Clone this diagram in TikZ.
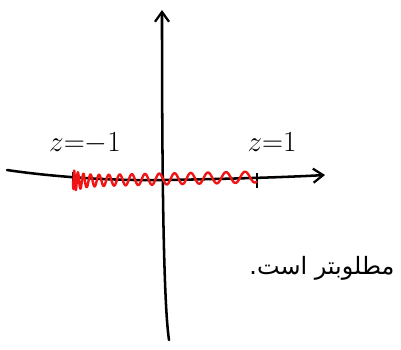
\documentclass[tikz,border=0pt]{standalone}
\usepackage{fontspec}
\usepackage{tikz}
\usetikzlibrary{arrows.meta,positioning,calc}
\newfontfamily\persianfont[Script=Arabic]{DejaVu Sans}
\TeXXeTstate=1
\definecolor{wavered}{HTML}{F01414}
\tikzset{
  axisline/.style={line width=1.8pt, line cap=round, -{Straight Barb[length=7pt,width=10pt,line width=1.6pt]}},
  tickline/.style={line width=1.8pt},
  axislabel/.style={font=\fontsize{20}{24}\selectfont, inner sep=0pt},
}

\begin{document}
\begin{tikzpicture}[x=0.025cm, y=-0.025cm]
\useasboundingbox (0,0) rectangle (401,349);
% axes
\coordinate (yTop) at (162,10);
\coordinate (yBot) at (169,340);
\coordinate (xLeft) at (7,170);
\coordinate (xRight) at (325,175);
\coordinate (zMinus) at (73,178);
\coordinate (zPlus) at (257,178);
\draw[axisline] (yBot) .. controls (163,300) and (162,150) .. (yTop);
\draw[axisline] (xLeft) .. controls (40,175) and (100,181) .. (163,180) .. controls (230,179) and (290,177) .. (xRight);
\draw[tickline] ($(zMinus)+(0,-6)$) -- ($(zMinus)+(0,9)$);
\draw[tickline] ($(zPlus)+(0,-5)$) -- ($(zPlus)+(0,10)$);
% labels
\node[axislabel] (labMinus) at (85,143) {$z{=}{-}1$};
\node[axislabel] (labPlus) at (272,142) {$z{=}1$};
% red wave between -1 and 1
\draw[wavered, line width=1.7pt, line join=round]
  plot[smooth, samples=500, domain=0:184, variable=\u]
  ({73+\u}, {181-0.022*\u+(5.5+6*exp(-\u/8))*sin(3600*pow(\u/90,0.6))});
\node[font=\persianfont\fontsize{17}{21}\selectfont, inner sep=0pt] (remark) at (322,268) {\beginR مطلوبتر است.\endR};
\end{tikzpicture}
\end{document}
